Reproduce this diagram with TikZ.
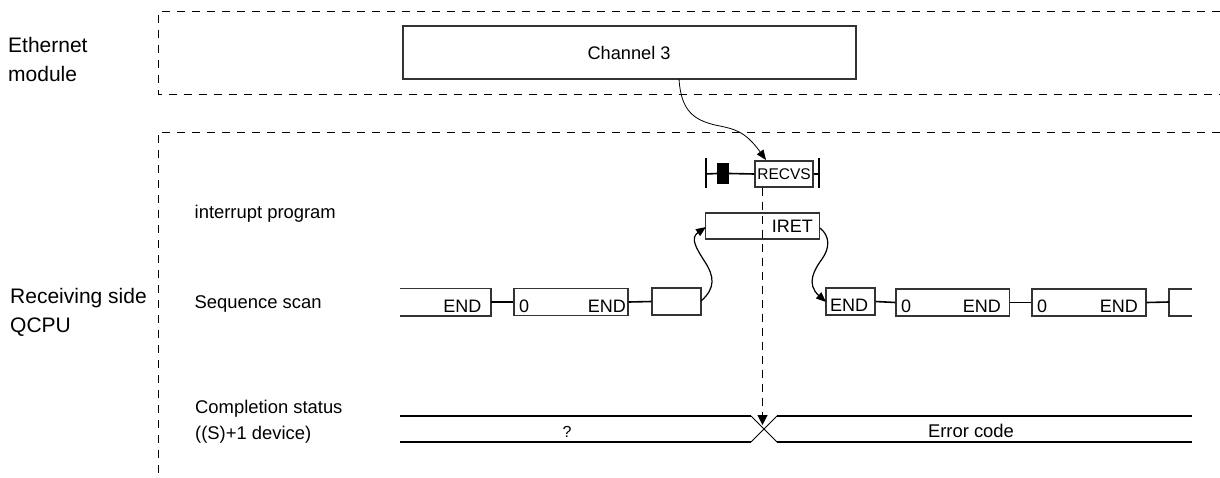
\documentclass[tikz,border=0pt]{standalone}
\usepackage{fontspec}
\setmainfont{Liberation Sans}
\usetikzlibrary{arrows.meta}
\definecolor{boxc}{HTML}{333333}
\tikzset{
  frameline/.style={line width=1pt,dash pattern=on 8pt off 7pt},
  pbox/.style={draw=boxc,line width=1.2pt,fill=white,inner sep=0pt,rectangle},
  link/.style={line width=1.6pt,black},
  bar/.style={line width=1.5pt,black},
  sig/.style={line width=1.6pt,black},
  curve/.style={line width=.8pt,black,-{Triangle[length=10pt,width=8pt]}},
  lab/.style={inner sep=0pt,anchor=base west,font=\fontsize{18.4}{20}\selectfont},
  big/.style={inner sep=0pt,anchor=base west,font=\fontsize{21}{24}\selectfont},
  boxtxt/.style={inner sep=0pt,anchor=base east,font=\fontsize{18}{20}\selectfont},
  boxtxtl/.style={inner sep=0pt,anchor=base west,font=\fontsize{18}{20}\selectfont},
}
\begin{document}
\begin{tikzpicture}[x=1pt,y=-1pt]
\useasboundingbox (0,0) rectangle (1220,477);
% frames
\draw[frameline] (1220,11.5) -- (158,11.5) -- (158,94) -- (1220,94);
\draw[frameline] (1220,132) -- (158,132) -- (158,477);
% labels
\node[big] (eth1) at (8,52) {Ethernet};
\node[big] (eth2) at (8,81) {module};
\node[big] (rec1) at (10,303) {Receiving side};
\node[big] (rec2) at (10,332) {QCPU};
\node[lab] (lint) at (194.5,218) {interrupt program};
\node[lab] (lseq) at (194.5,308) {Sequence scan};
\node[lab] (lcs1) at (195,413) {Completion status};
\node[lab] (lcs2) at (195,439) {((S)+1 device)};
% channel
\node[pbox,minimum width=453pt,minimum height=53pt] (chan) at (629.5,52.5) {};
\node[inner sep=0pt,anchor=base,font=\fontsize{18.2}{20}\selectfont] (chant) at (629,59) {Channel 3};
% rung
\node[pbox,minimum width=58pt,minimum height=26pt] (recvs) at (784,174) {};
\node[inner sep=0pt,font=\fontsize{15.5}{18}\selectfont] (recvst) at (784,174) {RECVS};
\coordinate (rl) at (706,174);
\coordinate (rr) at (819,174);
\draw[bar] (706,158) -- (706,188);
\draw[bar] (819,158) -- (819,188);
\node[fill=black,inner sep=0pt,minimum width=12pt,minimum height=21pt] (contact) at (723,173.5) {};
\draw[link] (rl) -- (contact.west);
\draw[link] (contact.east) -- (recvs.west);
\draw[link] (recvs.east) -- (rr);
% IRET
\node[pbox,minimum width=114pt,minimum height=26pt] (iret) at (762.5,226) {};
\node[boxtxt] (irett) at (813,232) {IRET};
% scan boxes
\draw[draw=boxc,line width=1.2pt] (400,288.5) -- (491,288.5) -- (491,316) -- (400,316);
\coordinate (s0) at (491,302);
\node[boxtxt] (s0e) at (481.5,312.5) {END};
\node[pbox,minimum width=114pt,minimum height=27.5pt] (s1) at (571,302) {};
\node[boxtxtl] (s1z) at (519,312.5) {0};
\node[boxtxt] (s1e) at (626,312.5) {END};
\node[pbox,minimum width=49pt,minimum height=27pt] (s2) at (676.5,301.5) {};
\node[pbox,minimum width=49pt,minimum height=27pt] (s3) at (850.5,301.5) {};
\node[boxtxtl] (s3e) at (830,311) {END};
\node[pbox,minimum width=113.5pt,minimum height=27pt] (s4) at (952.75,302.5) {};
\node[boxtxtl] (s4z) at (901,312.5) {0};
\node[boxtxt] (s4e) at (1001,312.5) {END};
\node[pbox,minimum width=114pt,minimum height=27pt] (s5) at (1089,302.5) {};
\node[boxtxtl] (s5z) at (1037,312.5) {0};
\node[boxtxt] (s5e) at (1138,312.5) {END};
\draw[draw=boxc,line width=1.2pt] (1192,289) -- (1169,289) -- (1169,316) -- (1192,316);
\coordinate (s6) at (1169,302);
\draw[link] (s0) -- (s1.west);
\draw[link] (s1.east) -- (s2.west);
\draw[link] (s3.east) -- (s4.west);
\draw[link] (s4.east) -- (s5.west);
\draw[link] (s5.east) -- (s6);
% completion signal
\draw[sig] (400,416) -- (751,416);
\draw[sig] (400,442) -- (751,442);
\draw[line width=1pt] (751,416) -- (777,442);
\draw[line width=1pt] (751,442) -- (777,416);
\draw[sig] (777,416) -- (1192,416);
\draw[sig] (777,442) -- (1192,442);
\node[inner sep=0pt,anchor=base,font=\fontsize{16}{18}\selectfont] (q) at (567,437) {?};
\node[inner sep=0pt,anchor=base,font=\fontsize{18.4}{20}\selectfont] (ec) at (971,437) {Error code};
\coordinate (cross) at (762.5,425);
% connectors
\coordinate (dstart) at (recvs.south -| cross);
\draw[line width=1pt,dash pattern=on 8pt off 6pt,-{Triangle[length=10pt,width=10pt]}] (dstart) -- (cross);
\coordinate (cs) at (679,79);
\coordinate (ct) at (766,160);
\draw[curve] (cs) .. controls (681,112) and (695,120) .. (715,125) .. controls (735,129) and (745,131) .. (ct);
\coordinate (ls) at (701,301);
\coordinate (lt) at (706,227);
\draw[curve,line width=1.2pt] (ls) .. controls (716,288) and (714,276) .. (705,262) .. controls (696,248) and (690,238) .. (lt);
\coordinate (rs) at (820,228);
\coordinate (rt) at (826,302);
\draw[curve,line width=1.2pt] (rs) .. controls (830,236) and (830,248) .. (822,259) .. controls (814,270) and (806,284) .. (rt);
\end{tikzpicture}
\end{document}
